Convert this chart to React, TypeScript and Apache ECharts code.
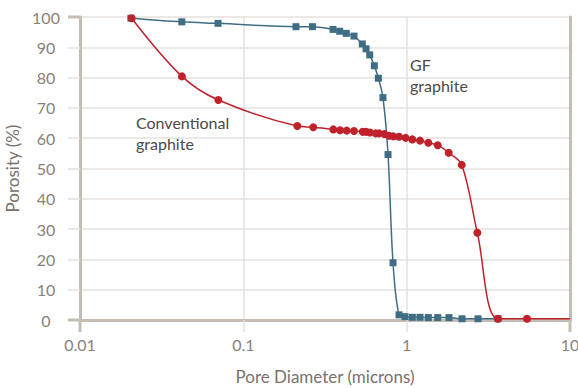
import React, { useEffect, useRef } from "react";
import * as echarts from "echarts";

const xTickLabels = ["0.01", "0.1", "1", "10"];
const yTickLabels = ["0", "10", "20", "30", "40", "50", "60", "70", "80", "90", "100"];

const gfDiameter = [
  0.0205, 0.042, 0.07, 0.21, 0.265, 0.354, 0.389, 0.427, 0.476, 0.535, 0.564, 0.594,
  0.634, 0.671, 0.716, 0.769, 0.825, 0.898, 0.977, 1.083, 1.207, 1.357, 1.549, 1.816,
  2.182, 2.734, 3.624,
];
const gfPorosity = [
  99.6, 98.4, 97.9, 96.8, 96.8, 95.9, 95.3, 94.6, 93.7, 91.1, 89.5, 87.5,
  83.9, 79.8, 73.4, 54.6, 18.9, 1.7, 1.1, 0.9, 0.9, 0.8, 0.8, 0.8,
  0.4, 0.4, 0.4,
];

const convDiameter = [
  0.0207, 0.0421, 0.0703, 0.214, 0.268, 0.3555, 0.391, 0.4295, 0.476, 0.538, 0.564,
  0.5965, 0.646, 0.677, 0.73, 0.78, 0.8286, 0.898, 0.9865, 1.083, 1.207, 1.357, 1.549,
  1.809, 2.173, 2.707, 3.624, 5.455, 10,
];
const convPorosity = [
  99.6, 80.4, 72.6, 64.0, 63.6, 62.9, 62.6, 62.5, 62.4, 62.1, 62.1,
  61.9, 61.6, 61.6, 61.4, 60.8, 60.6, 60.5, 60.1, 59.6, 59.2, 58.5, 57.7,
  55.2, 51.2, 28.8, 0.4, 0.4, 0.4,
];

const FONT = "Lato, 'Noto Sans', sans-serif";
const AXIS_COLOR = "#c5bcb5";
const GRID_COLOR = "#e6e1dd";
const LABEL_COLOR = "#8a817b";

export default function App() {
  const ref = useRef<HTMLDivElement>(null);

  useEffect(() => {
    if (!ref.current) return;
    const chart = echarts.init(ref.current, undefined, { renderer: "svg" });

    const gfData = gfDiameter.map((d, i) => [d, gfPorosity[i]]);
    const convData = convDiameter.map((d, i) => {
      const isLast = i === convDiameter.length - 1;
      return isLast
        ? { value: [d, convPorosity[i]], symbol: "none" }
        : { value: [d, convPorosity[i]] };
    });

    const xFormatter = (v: number) => {
      const e = Math.round(Math.log10(v)) + 2;
      return xTickLabels[e] ?? "";
    };
    const yFormatter = (v: number) => yTickLabels[Math.round(v / 10)] ?? "";

    const left = 80, right = 570, top = 17, bottom = 320;

    chart.setOption({
      animation: false,
      textStyle: { fontFamily: FONT },
      grid: {
        left,
        right: 578 - right,
        top,
        bottom: 388 - bottom,
        containLabel: false,
        outerBoundsMode: "none",
      },
      xAxis: [
        {
          type: "log",
          logBase: 10,
          min: 0.01,
          max: 10,
          name: "Pore Diameter (microns)",
          nameLocation: "middle",
          nameGap: 48,
          nameTextStyle: { color: "#7a726c", fontSize: 17, fontFamily: FONT },
          axisLine: { show: true, lineStyle: { color: AXIS_COLOR, width: 3 } },
          axisTick: { show: true, length: 12, lineStyle: { color: GRID_COLOR, width: 1.5 } },
          axisLabel: {
            color: LABEL_COLOR,
            fontSize: 16,
            margin: 16,
            fontFamily: FONT,
            formatter: xFormatter,
          },
          splitLine: { show: true, lineStyle: { color: GRID_COLOR, width: 1.5 } },
          minorTick: { show: false },
          minorSplitLine: { show: false },
        },
        {
          type: "log",
          logBase: 10,
          min: 0.01,
          max: 10,
          position: "top",
          axisLine: { show: true, lineStyle: { color: AXIS_COLOR, width: 3 } },
          axisTick: { show: false },
          axisLabel: { show: false },
          splitLine: { show: false },
        },
      ],
      yAxis: [
        {
          type: "value",
          min: 0,
          max: 100,
          interval: 10,
          name: "Porosity (%)",
          nameLocation: "middle",
          nameGap: 52,
          nameTextStyle: { color: "#7a726c", fontSize: 17, fontFamily: FONT },
          axisLine: { show: true, lineStyle: { color: AXIS_COLOR, width: 3 } },
          axisTick: { show: true, length: 12, lineStyle: { color: GRID_COLOR, width: 1.5 } },
          axisLabel: {
            color: LABEL_COLOR,
            fontSize: 16,
            margin: 34,
            align: "center",
            fontFamily: FONT,
            formatter: yFormatter,
          },
          splitLine: { show: true, lineStyle: { color: GRID_COLOR, width: 1.5 } },
        },
        {
          type: "value",
          min: 0,
          max: 100,
          interval: 10,
          position: "right",
          axisLine: { show: true, lineStyle: { color: AXIS_COLOR, width: 3 } },
          axisTick: { show: false },
          axisLabel: { show: false },
          splitLine: { show: false },
        },
      ],
      graphic: [
        { type: "line", z: 1, shape: { x1: left, y1: bottom, x2: left, y2: bottom + 12 }, style: { stroke: AXIS_COLOR, lineWidth: 3 } },
        { type: "line", z: 1, shape: { x1: right, y1: bottom, x2: right, y2: bottom + 12 }, style: { stroke: AXIS_COLOR, lineWidth: 3 } },
        { type: "line", z: 1, shape: { x1: left - 12, y1: top, x2: left, y2: top }, style: { stroke: AXIS_COLOR, lineWidth: 3 } },
        { type: "line", z: 1, shape: { x1: left - 12, y1: bottom, x2: left, y2: bottom }, style: { stroke: AXIS_COLOR, lineWidth: 3 } },
        {
          type: "text",
          left: 136,
          top: 112,
          style: {
            text: "Conventional\ngraphite",
            fill: "#4d4a48",
            font: `16px ${FONT}`,
            lineHeight: 21,
          },
        },
        {
          type: "text",
          left: 410,
          top: 54,
          style: {
            text: "GF\ngraphite",
            fill: "#4d4a48",
            font: `16px ${FONT}`,
            lineHeight: 21,
          },
        },
      ],
      series: [
        {
          name: "GF graphite",
          type: "line",
          data: gfData,
          smooth: 0.35,
          symbol: "rect",
          symbolSize: 7,
          z: 3,
          lineStyle: { color: "#3f6e84", width: 1.5 },
          itemStyle: { color: "#3f6e84" },
        },
        {
          name: "Conventional graphite",
          type: "line",
          data: convData,
          smooth: 0.35,
          symbol: "circle",
          symbolSize: 8,
          z: 4,
          lineStyle: { color: "#c0222b", width: 1.5 },
          itemStyle: { color: "#c0222b" },
        },
      ],
    });

    return () => chart.dispose();
  }, []);

  return <div ref={ref} style={{ width: 578, height: 388, position: "absolute", left: 0, top: 0 }} />;
}
